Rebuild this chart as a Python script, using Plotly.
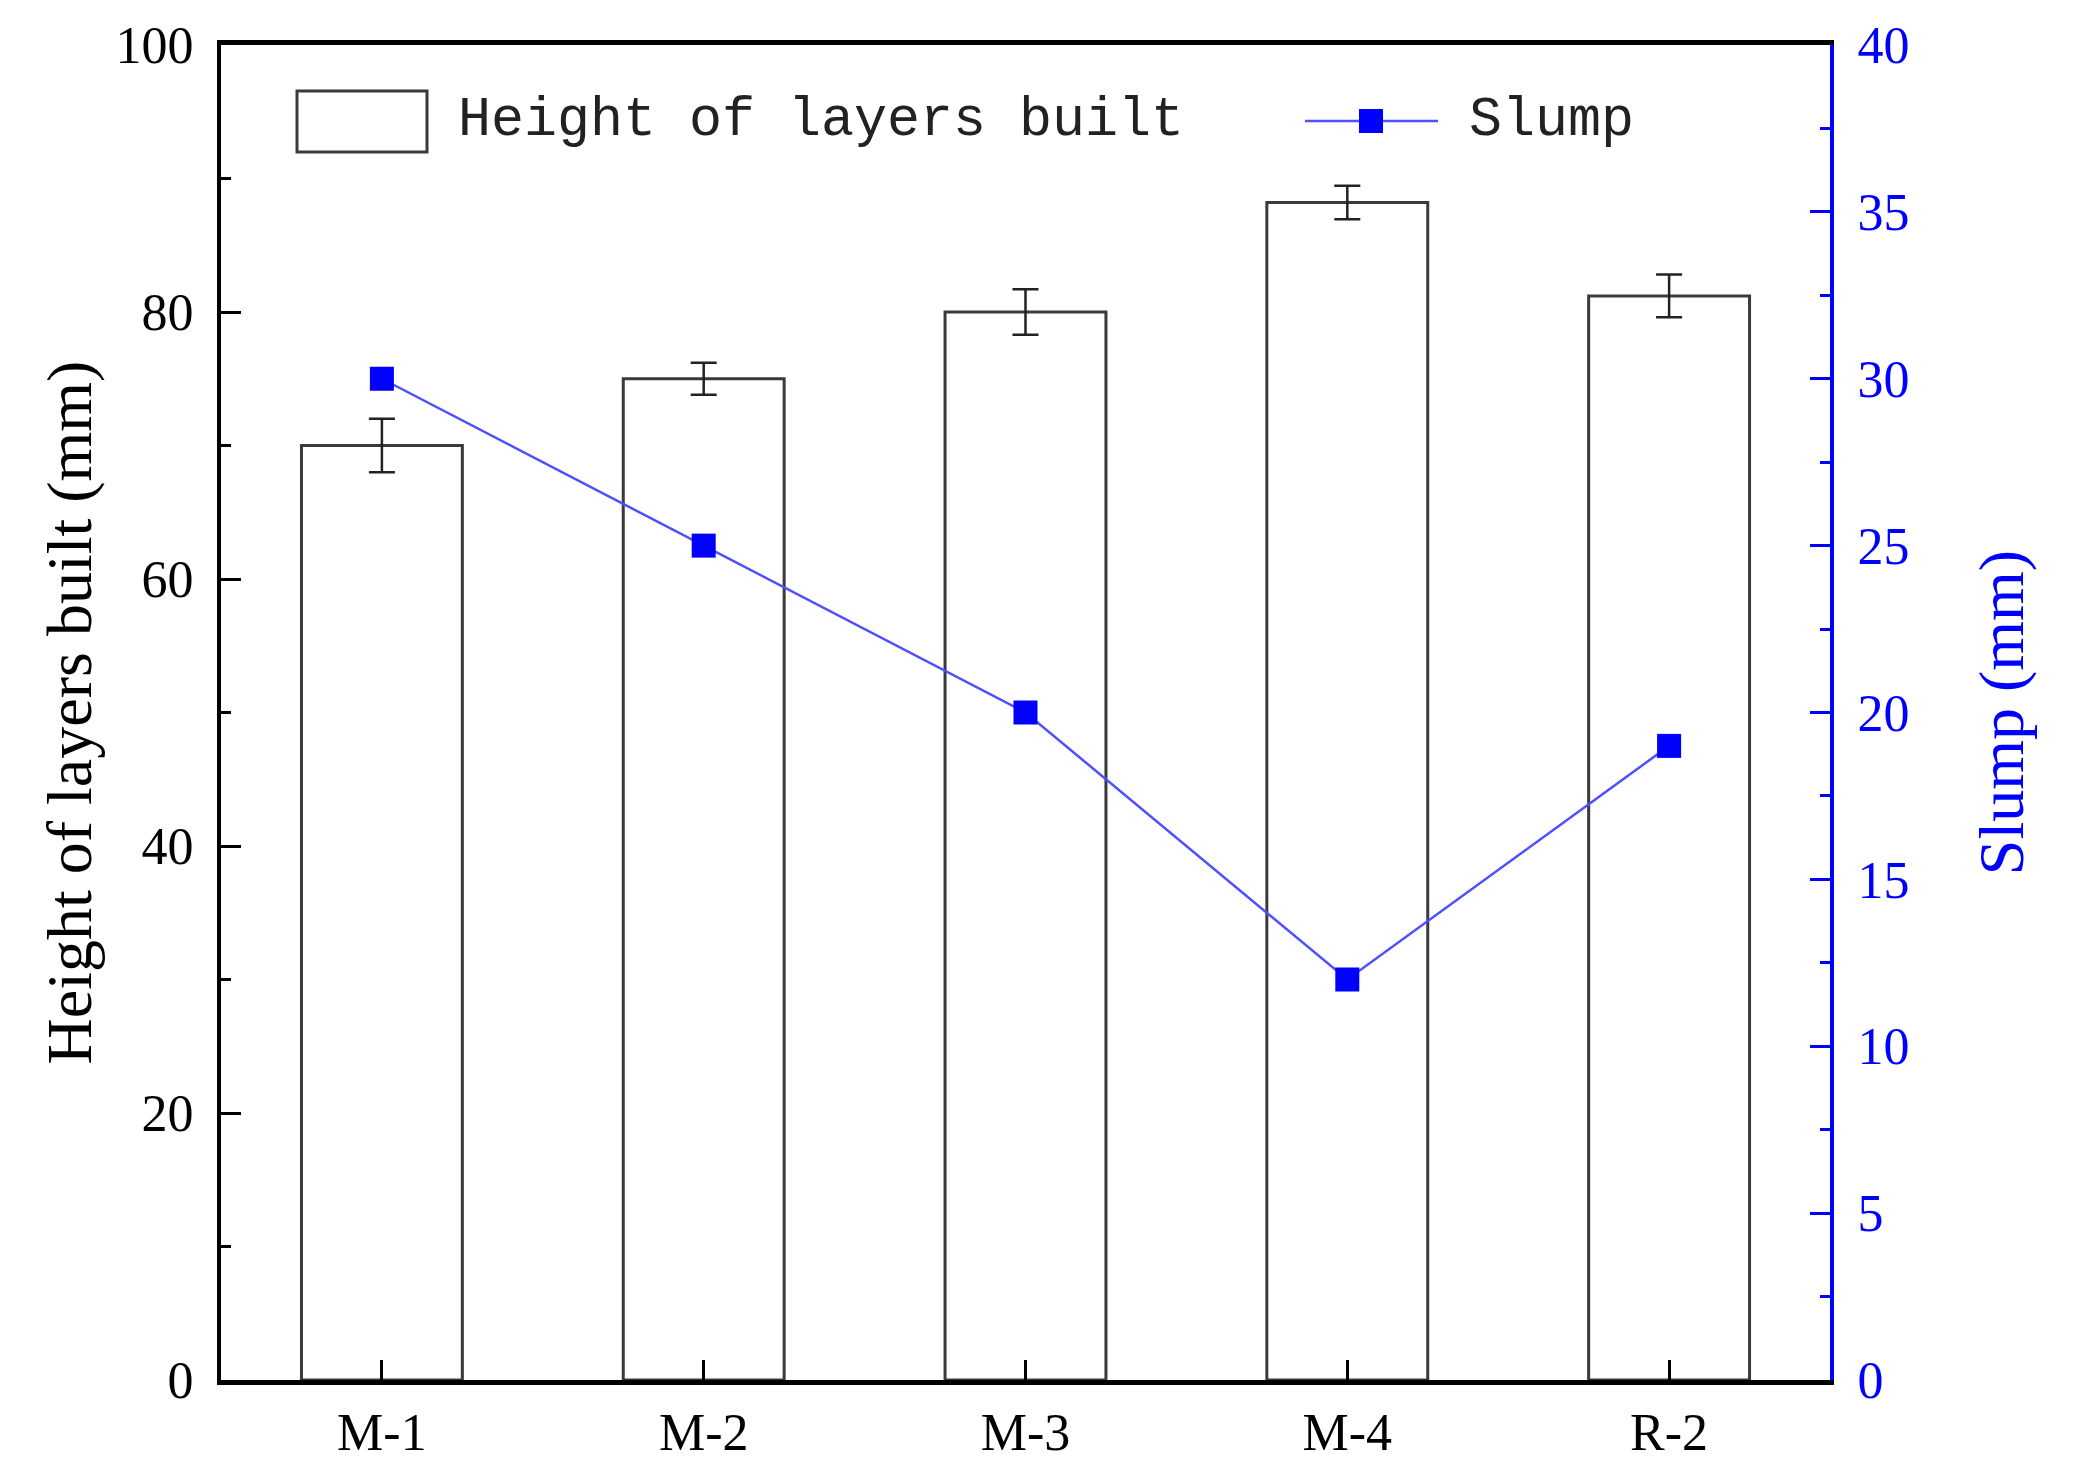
import plotly.graph_objects as go

categories = ["M-1", "M-2", "M-3", "M-4", "R-2"]
height_built = [70.0, 75.0, 80.0, 88.2, 81.2]
height_err = [2.0, 1.2, 1.7, 1.25, 1.6]
slump = [30, 25, 20, 12, 19]

left_ticks = [0, 20, 40, 60, 80, 100]
right_ticks = [0, 5, 10, 15, 20, 25, 30, 35, 40]

BLUE = "#0000ff"
SERIF = "Liberation Serif, Times New Roman, serif"
MONO = "Liberation Mono, Courier New, monospace"

# page is offset by the default 8px body margin
OFF = 8
W, H = 2078 - 2 * OFF, 1477 - 2 * OFF
L, R, T, B = 221, 1830, 45, 1380  # plot area in page pixels

def px(x):
    return (x - L) / (R - L)

def py(y):
    return 1 - (y - T) / (B - T)

fig = go.Figure()

fig.add_trace(go.Bar(
    x=categories, y=height_built, width=0.5,
    marker=dict(color="white", line=dict(color="#3a3a3a", width=3)),
    error_y=dict(type="data", array=height_err, visible=True,
                 color="#222222", thickness=2.5, width=13),
    showlegend=False, yaxis="y",
))

fig.add_trace(go.Scatter(
    x=categories, y=slump, mode="lines+markers",
    line=dict(color="#4f4fff", width=2.5),
    marker=dict(symbol="square", size=24, color=BLUE),
    showlegend=False, yaxis="y2",
))

# custom legend
legend_y = py(121)
fig.add_shape(type="rect", xref="paper", yref="paper",
              x0=px(297), x1=px(427), y0=py(152), y1=py(91),
              line=dict(color="#3a3a3a", width=3), fillcolor="white")
fig.add_annotation(xref="paper", yref="paper", x=px(456), y=legend_y,
                   xanchor="left", yanchor="middle", showarrow=False,
                   text="Height of layers built",
                   font=dict(family=MONO, size=55, color="#222222"))
fig.add_shape(type="line", xref="paper", yref="paper",
              x0=px(1305), x1=px(1438), y0=legend_y, y1=legend_y,
              line=dict(color="#4f4fff", width=2.5))
fig.add_shape(type="rect", xref="paper", yref="paper",
              xsizemode="pixel", ysizemode="pixel",
              xanchor=px(1371), yanchor=legend_y,
              x0=-12, x1=12, y0=-12, y1=12,
              line=dict(width=0), fillcolor=BLUE)
fig.add_annotation(xref="paper", yref="paper", x=px(1467), y=legend_y,
                   xanchor="left", yanchor="middle", showarrow=False,
                   text="Slump",
                   font=dict(family=MONO, size=55, color="#222222"))

fig.update_layout(
    width=W, height=H,
    margin=dict(l=L - OFF, r=W - (R - OFF), t=T - OFF, b=H - (B - OFF)),
    paper_bgcolor="white", plot_bgcolor="white",
    font=dict(family=SERIF, color="black"),
    xaxis=dict(
        type="category", range=[-0.5, 4.5], automargin=False,
        showline=True, linecolor="black", linewidth=5, mirror=True,
        ticks="inside", ticklen=20, tickwidth=3, tickcolor="black",
        minor=dict(ticks="inside", ticklen=10, tickwidth=3, tickcolor="black", showgrid=False),
        tickfont=dict(family=SERIF, size=52, color="black"),
        showgrid=False, zeroline=False, ticklabelstandoff=3,
    ),
    yaxis=dict(
        range=[0, 100], tickvals=left_ticks, automargin=False,
        showline=True, linecolor="black", linewidth=4,
        ticks="inside", ticklen=20, tickwidth=3, tickcolor="black",
        minor=dict(dtick=10, ticks="inside", ticklen=10, tickwidth=3, tickcolor="black", showgrid=False),
        tickfont=dict(family=SERIF, size=52, color="black"),
        showgrid=False, zeroline=False, ticklabelstandoff=13,
        title=dict(text="Height of layers built (mm)",
                   font=dict(family=SERIF, size=64, color="black"), standoff=4),
    ),
    yaxis2=dict(
        range=[0, 40], tickvals=right_ticks, overlaying="y", side="right",
        automargin=False,
        showline=True, linecolor=BLUE, linewidth=4,
        ticks="inside", ticklen=20, tickwidth=3, tickcolor=BLUE,
        minor=dict(dtick=2.5, ticks="inside", ticklen=10, tickwidth=3, tickcolor=BLUE, showgrid=False),
        tickfont=dict(family=SERIF, size=52, color=BLUE),
        showgrid=False, zeroline=False, ticklabelstandoff=13,
        title=dict(text="Slump (mm)",
                   font=dict(family=SERIF, size=64, color=BLUE), standoff=71),
    ),
)

fig.write_html("out.html")
